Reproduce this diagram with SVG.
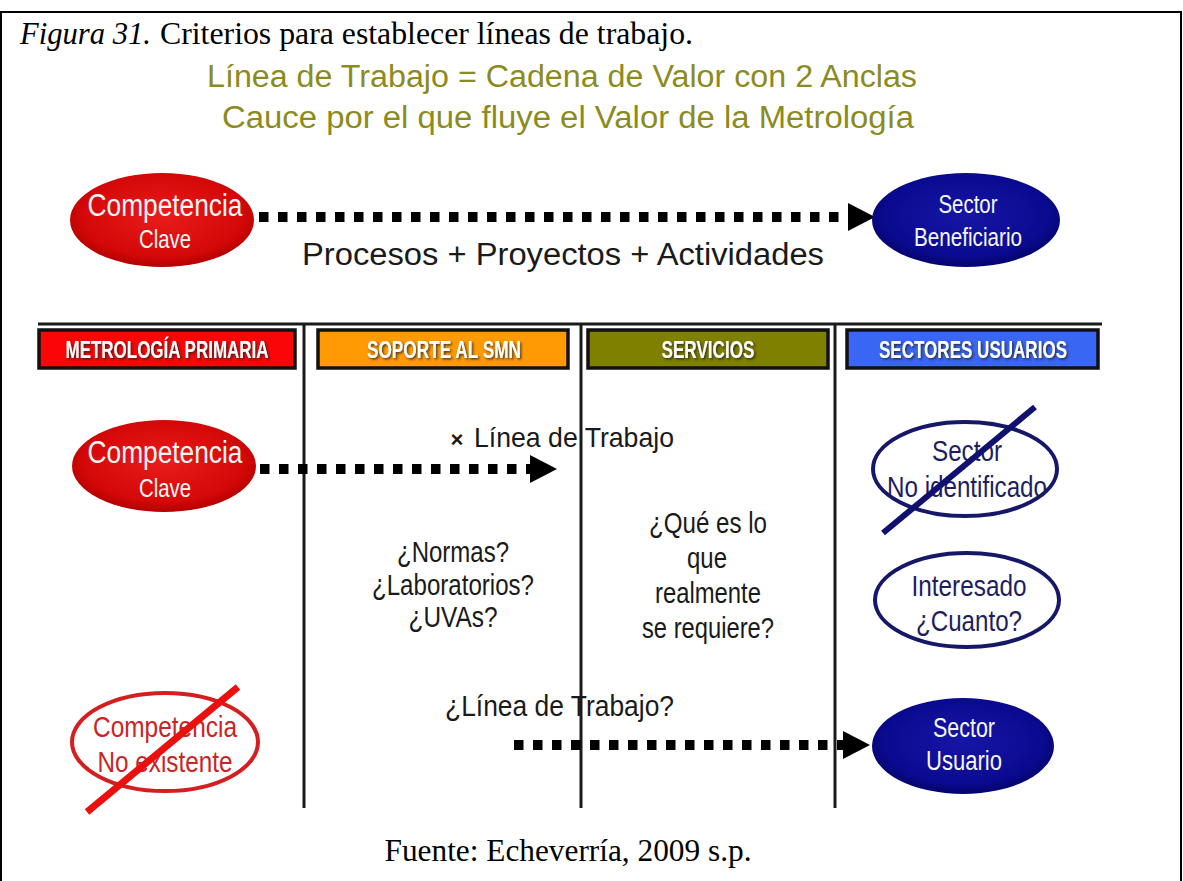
<svg xmlns="http://www.w3.org/2000/svg" width="1183" height="881" viewBox="0 0 1183 881">
  <defs>
    <radialGradient id="redFill" cx="50%" cy="45%" r="55%">
      <stop offset="0" stop-color="#ea1c1c"/>
      <stop offset="0.8" stop-color="#d40808"/>
      <stop offset="1" stop-color="#b30000"/>
    </radialGradient>
    <radialGradient id="blueFill" cx="50%" cy="45%" r="55%">
      <stop offset="0" stop-color="#1616a6"/>
      <stop offset="0.8" stop-color="#0a0a90"/>
      <stop offset="1" stop-color="#04046c"/>
    </radialGradient>
    <filter id="labelShadow" x="-10%" y="-30%" width="120%" height="160%">
      <feDropShadow dx="1.5" dy="1.5" stdDeviation="0.8" flood-color="#222" flood-opacity="0.8"/>
    </filter>
    <marker id="arrowHead" markerUnits="userSpaceOnUse" markerWidth="28" markerHeight="30" viewBox="0 -15 28 30" refX="0" refY="0" orient="auto">
      <path d="M0,-14 L27,0 L0,14 Z" fill="#000"/>
    </marker>
    <style>
      .serif { font-family: "Liberation Serif", "Times New Roman", serif; fill: #000; }
      .sans { font-family: "Liberation Sans", Arial, sans-serif; }
      .narrow { font-family: "Liberation Sans Narrow", "Liberation Sans", Arial, sans-serif; }
      .olive { fill: #8b8b1e; font-size: 31px; }
      .dots { fill: none; stroke: #000; stroke-width: 10; stroke-dasharray: 9.5 9.5; }
      .rule { stroke: #1a1a1a; stroke-width: 3; fill: none; }
      .head { stroke: #111; stroke-width: 3.5; }
      .headText { fill: #fff; font-size: 23px; font-weight: bold; filter: url(#labelShadow); }
      .solidRed { fill: url(#redFill); }
      .solidBlue { fill: url(#blueFill); }
      .onFill { fill: #f6f6f6; }
      .ringRed { fill: #fff; stroke: #d31f1f; stroke-width: 4; }
      .ringBlue { fill: #fff; stroke: #17176a; stroke-width: 4; }
      .txtRed { fill: #c82525; font-size: 30px; }
      .txtBlue { fill: #1e1e5e; font-size: 30px; }
      .mid { fill: #1a1a1a; font-size: 30px; }
    </style>
  </defs>

  <!-- outer frame -->
  <rect x="1" y="12" width="1180" height="880" fill="#fff" stroke="#000" stroke-width="2"/>

  <!-- caption -->
  <text class="serif" x="20" y="44" font-size="31" font-style="italic" textLength="131" lengthAdjust="spacingAndGlyphs">Figura 31.</text>
  <text class="serif" x="160" y="44" font-size="31" textLength="533" lengthAdjust="spacingAndGlyphs">Criterios para establecer líneas de trabajo.</text>

  <!-- heading -->
  <text class="sans olive" x="562" y="87" text-anchor="middle" textLength="710" lengthAdjust="spacingAndGlyphs">Línea de Trabajo = Cadena de Valor con 2 Anclas</text>
  <text class="sans olive" x="568" y="128" text-anchor="middle" textLength="692" lengthAdjust="spacingAndGlyphs">Cauce por el que fluye el Valor de la Metrología</text>

  <!-- grid rules -->
  <g id="rules">
    <line class="rule" x1="38" y1="324" x2="1102" y2="324"/>
    <line class="rule" x1="304" y1="324" x2="304" y2="808"/>
    <line class="rule" x1="581" y1="324" x2="581" y2="808"/>
    <line class="rule" x1="835" y1="324" x2="835" y2="808"/>
  </g>

  <!-- connectors -->
  <g id="connectors">
    <path class="dots" d="M259,217 H848" marker-end="url(#arrowHead)"/>
    <path class="dots" d="M260,469 H530" marker-end="url(#arrowHead)"/>
    <path class="dots" d="M514,745 H843" marker-end="url(#arrowHead)"/>
  </g>

  <text class="sans" x="563" y="265" font-size="31" fill="#1a1a1a" text-anchor="middle" textLength="522" lengthAdjust="spacingAndGlyphs">Procesos + Proyectos + Actividades</text>

  <!-- column headers -->
  <g id="hdr-metrologia">
    <rect class="head" x="39" y="330" width="256" height="38" fill="#fa0606"/>
    <text class="narrow headText" x="167" y="358" text-anchor="middle" textLength="203" lengthAdjust="spacingAndGlyphs">METROLOGÍA PRIMARIA</text>
  </g>
  <g id="hdr-soporte">
    <rect class="head" x="318" y="330" width="250" height="38" fill="#ff9a05"/>
    <text class="narrow headText" x="444" y="358" text-anchor="middle" textLength="154" lengthAdjust="spacingAndGlyphs">SOPORTE AL SMN</text>
  </g>
  <g id="hdr-servicios">
    <rect class="head" x="588" y="330" width="240" height="38" fill="#7f7f00"/>
    <text class="narrow headText" x="708" y="358" text-anchor="middle" textLength="93" lengthAdjust="spacingAndGlyphs">SERVICIOS</text>
  </g>
  <g id="hdr-sectores">
    <rect class="head" x="847" y="330" width="251" height="38" fill="#3a66f4"/>
    <text class="narrow headText" x="973" y="358" text-anchor="middle" textLength="188" lengthAdjust="spacingAndGlyphs">SECTORES USUARIOS</text>
  </g>

  <!-- top chain -->
  <g id="competencia-clave-top">
    <ellipse class="solidRed" cx="162" cy="220" rx="92" ry="47"/>
    <text class="narrow onFill" x="165" y="216" font-size="31" text-anchor="middle" textLength="155" lengthAdjust="spacingAndGlyphs">Competencia</text>
    <text class="narrow onFill" x="165" y="248" font-size="25" text-anchor="middle" textLength="52" lengthAdjust="spacingAndGlyphs">Clave</text>
  </g>
  <g id="sector-beneficiario">
    <ellipse class="solidBlue" cx="966" cy="220" rx="94" ry="47"/>
    <text class="narrow onFill" x="968" y="213" font-size="25" text-anchor="middle" textLength="59" lengthAdjust="spacingAndGlyphs">Sector</text>
    <text class="narrow onFill" x="968" y="246" font-size="25" text-anchor="middle" textLength="108" lengthAdjust="spacingAndGlyphs">Beneficiario</text>
  </g>

  <!-- second row -->
  <g id="competencia-clave">
    <ellipse class="solidRed" cx="164" cy="466" rx="92" ry="46"/>
    <text class="narrow onFill" x="165" y="463" font-size="31" text-anchor="middle" textLength="155" lengthAdjust="spacingAndGlyphs">Competencia</text>
    <text class="narrow onFill" x="165" y="497" font-size="25" text-anchor="middle" textLength="52" lengthAdjust="spacingAndGlyphs">Clave</text>
  </g>
  <g id="label-linea">
    <text class="sans" x="457" y="447" font-size="22" font-weight="bold" fill="#1a1a1a" text-anchor="middle">×</text>
    <text class="sans" x="474" y="447" font-size="28" fill="#1a1a1a" textLength="200" lengthAdjust="spacingAndGlyphs">Línea de Trabajo</text>
  </g>
  <g id="sector-no-identificado">
    <ellipse class="ringBlue" cx="965" cy="469" rx="92" ry="47"/>
    <text class="narrow txtBlue" x="967" y="461" text-anchor="middle" textLength="70" lengthAdjust="spacingAndGlyphs">Sector</text>
    <text class="narrow txtBlue" x="967" y="497" text-anchor="middle" textLength="160" lengthAdjust="spacingAndGlyphs">No identificado</text>
    <line x1="883" y1="533" x2="1035" y2="407" stroke="#10106e" stroke-width="6"/>
  </g>

  <!-- questions -->
  <g id="preguntas-soporte">
    <text class="narrow mid" x="453" y="562" text-anchor="middle" textLength="112" lengthAdjust="spacingAndGlyphs">¿Normas?</text>
    <text class="narrow mid" x="453" y="595" text-anchor="middle" textLength="162" lengthAdjust="spacingAndGlyphs">¿Laboratorios?</text>
    <text class="narrow mid" x="453" y="627" text-anchor="middle" textLength="89" lengthAdjust="spacingAndGlyphs">¿UVAs?</text>
  </g>
  <g id="preguntas-servicios">
    <text class="narrow mid" x="708" y="533" text-anchor="middle" textLength="118" lengthAdjust="spacingAndGlyphs">¿Qué es lo</text>
    <text class="narrow mid" x="707" y="568" text-anchor="middle" textLength="40" lengthAdjust="spacingAndGlyphs">que</text>
    <text class="narrow mid" x="708" y="603" text-anchor="middle" textLength="106" lengthAdjust="spacingAndGlyphs">realmente</text>
    <text class="narrow mid" x="708" y="638" text-anchor="middle" textLength="132" lengthAdjust="spacingAndGlyphs">se requiere?</text>
  </g>
  <g id="interesado">
    <ellipse class="ringBlue" cx="967" cy="600" rx="92" ry="47"/>
    <text class="narrow txtBlue" x="969" y="596" text-anchor="middle" textLength="115" lengthAdjust="spacingAndGlyphs">Interesado</text>
    <text class="narrow txtBlue" x="969" y="631" text-anchor="middle" textLength="106" lengthAdjust="spacingAndGlyphs">¿Cuanto?</text>
  </g>

  <!-- bottom row -->
  <g id="competencia-no-existente">
    <ellipse class="ringRed" cx="165" cy="742" rx="93" ry="49"/>
    <text class="narrow txtRed" x="165" y="737" text-anchor="middle" textLength="144" lengthAdjust="spacingAndGlyphs">Competencia</text>
    <text class="narrow txtRed" x="165" y="772" text-anchor="middle" textLength="135" lengthAdjust="spacingAndGlyphs">No existente</text>
    <line x1="87" y1="812" x2="238" y2="687" stroke="#ea1010" stroke-width="7"/>
  </g>
  <text class="sans" x="445" y="716" font-size="30" fill="#1a1a1a" textLength="229" lengthAdjust="spacingAndGlyphs">¿Línea de Trabajo?</text>
  <g id="sector-usuario">
    <ellipse class="solidBlue" cx="963" cy="746" rx="91" ry="48"/>
    <text class="narrow onFill" x="964" y="737" font-size="27" text-anchor="middle" textLength="62" lengthAdjust="spacingAndGlyphs">Sector</text>
    <text class="narrow onFill" x="964" y="770" font-size="27" text-anchor="middle" textLength="76" lengthAdjust="spacingAndGlyphs">Usuario</text>
  </g>

  <!-- source -->
  <text class="serif" x="568" y="861" font-size="31" text-anchor="middle" textLength="367" lengthAdjust="spacingAndGlyphs">Fuente: Echeverría, 2009 s.p.</text>
</svg>
